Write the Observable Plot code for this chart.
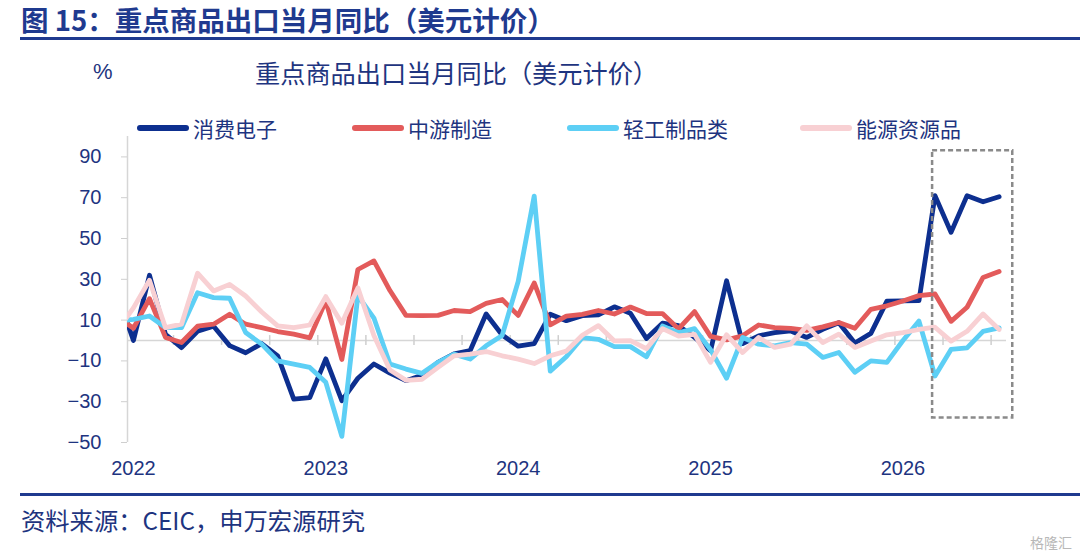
<!DOCTYPE html>
<html>
<head>
<meta charset="utf-8">
<script src="https://cdn.jsdelivr.net/npm/d3@7"></script>
<script src="https://cdn.jsdelivr.net/npm/@observablehq/plot@0.6"></script>
<style>
  html, body { margin: 0; padding: 0; background: #fff; }
  body { width: 1080px; height: 555px; overflow: hidden; font-family: "Noto Sans CJK SC", "Noto Sans", sans-serif; color: #1e3480; }
  #header { position: relative; height: 136px; }
  #title { position: absolute; left: 21px; top: 2px; font-size: 27.5px; font-weight: 700; color: #1f3a8f; line-height: 34px; white-space: nowrap; }
  #rule1 { position: absolute; left: 20px; right: 0; top: 37px; height: 3px; background: #1f3a8f; }
  #unit { position: absolute; left: 93px; top: 56px; font-family: "Liberation Sans", Arial, sans-serif; font-size: 22px; line-height: 32px; color: #1e3480; }
  #subtitle { position: absolute; left: 255px; top: 55px; font-size: 25.2px; line-height: 34px; color: #1e3480; white-space: nowrap; }
  .lg { position: absolute; top: 114px; height: 28px; display: flex; align-items: center; font-size: 21px; line-height: 28px; color: #1e3480; white-space: nowrap; }
  .sw { width: 52px; height: 6px; border-radius: 3px; margin-right: 4px; }
  #footer { position: relative; height: 65px; }
  #rule2 { position: absolute; left: 20px; right: 0; top: 3px; height: 3px; background: #1f3a8f; }
  #source { position: absolute; left: 21px; top: 14px; font-size: 24.3px; line-height: 32px; color: #1e3480; white-space: nowrap; }
  #wm { position: absolute; right: 8px; top: 42px; font-size: 14px; color: #b8b8b8; }
</style>
</head>
<body>
<div id="header">
  <div id="title">图 15：重点商品出口当月同比（美元计价）</div>
  <div id="rule1"></div>
  <div id="unit">%</div>
  <div id="subtitle">重点商品出口当月同比（美元计价）</div>
  <div id="legend"></div>
</div>
<div id="chart"></div>
<div id="footer">
  <div id="rule2"></div>
  <div id="source">资料来源：CEIC，申万宏源研究</div>
  <div id="wm">格隆汇</div>
</div>
<script>
// ---- data (monthly, Dec 2021 .. Jul 2026) ----
const seriesNames = ["消费电子", "中游制造", "轻工制品类", "能源资源品"];
const seriesColors = ["#0d2f8f", "#e35b5b", "#5dcff5", "#f8d0d3"];

const consumerElectronics = [22.7, 0, 32, 3, -3.5, 4.5, 7, -2.5, -6, -1.5, -7.5, -28.7, -28,
  -9, -29.5, -18.5, -11.5, -16, -19.7, -17, -10.7, -6.5, -5, 13, 2.7,
  -2.8, -1.5, 12.9, 9.7, 12.2, 12.6, 16.5, 13.4, 1, 8.5, 7.3, 1.5,
  -5, 29.3, -1.5, 2.3, 3.9, 4.7, 1.5, 5.5, 8.7, -1.2, 3.5, 19.3,
  19.4, 19.5, 71, 53, 71, 68, 70.5];
const midstreamManufacturing = [11.5, 6, 20.5, 1.5, -1, 7, 8, 12.9, 8, 6.3, 4.4, 3.1, 1.3,
  19.5, -9.3, 34.8, 39, 24.5, 12.3, 12.2, 12.3, 14.7, 14.2, 18.2, 20.1,
  12.3, 28.2, 7.7, 12, 12.8, 14.7, 13, 16.4, 13.2, 13.2, 5.7, 14.2,
  2, 0.3, 2.3, 7.6, 6.3, 5.9, 5, 6.7, 8.8, 6, 15.3, 17,
  19.4, 22, 22.8, 9.4, 16.3, 30.9, 33.8];
const lightIndustry = [9.5, 10.4, 12, 6.3, 6.3, 23.4, 21, 20.7, 3.9, -1.8, -10, -11.6, -13.2,
  -20.5, -47, 22, 11, -11.5, -14, -16.1, -10.7, -6.7, -9.1, -2.6, 2.5,
  29, 70.8, -15, -8, 1.4, 0.6, -3, -3, -8, 7.1, 3.8, 5.8,
  -4.5, -18.5, 1.5, -1.8, -2.6, -1, -1.8, -8.3, -5.9, -15.6, -10, -10.7,
  0, 9.5, -17.4, -4.4, -3.6, 4.5, 6.2];
const energyResources = [5, 16, 29.5, 6.3, 8, 33, 24.3, 27.5, 21.8, 14, 7.2, 6.3, 7.6,
  21.5, 8.5, 25.8, 2.5, -14.5, -19.5, -19, -13.2, -7.5, -6.7, -5.4, -7.5,
  -9.1, -11.3, -7.5, -5.2, 2.6, 7.3, -0.2, -0.1, -4, 5.8, 2.2, 3,
  -10.7, 2.8, -5.9, 1.5, -3.4, -1.8, 7.2, -1, 3.1, -3.4, -0.2, 2.8,
  3.9, 5.4, 6.5, -0.3, 4.5, 13, 5.4];

const yearTicks = [0, 12, 24, 36, 48];          // January of each year (month index)
const yearLabels = ["2022", "2023", "2024", "2025", "2026"];
const yTicks = [-50, -30, -10, 10, 30, 50, 70, 90];
const yDomain = [-50, 100];
const xDomain = [-0.37, 54.46];                  // axis window in month index (Jan 2022 = 0)
const quarterTicks = d3.range(2.5, 54, 3);       // category boundaries every quarter
const highlight = [{x1: 49.85, x2: 54.85, y1: -38, y2: 93}];

// ---- build table ----
const months = d3.utcMonths(new Date(Date.UTC(2021, 11, 1)), new Date(Date.UTC(2026, 7, 1)));
const monthIndex = d => (d.getUTCFullYear() - 2022) * 12 + d.getUTCMonth();
const allValues = [consumerElectronics, midstreamManufacturing, lightIndustry, energyResources];
const rows = allValues.flatMap((vals, s) =>
  vals.map((v, i) => ({name: seriesNames[s], t: monthIndex(months[i]), v})));

// ---- legend ----
const legendLeft = [137, 352, 567, 800];
const legend = document.getElementById("legend");
seriesNames.forEach((n, i) => {
  const el = document.createElement("div");
  el.className = "lg";
  el.style.left = legendLeft[i] + "px";
  el.innerHTML = `<div class="sw" style="background:${seriesColors[i]}"></div><span>${n}</span>`;
  legend.appendChild(el);
});

// ---- chart ----
const chart = Plot.plot({
  width: 1080,
  height: 354,
  marginLeft: 127,
  marginRight: 74,
  marginTop: 0,
  marginBottom: 48,
  style: {fontFamily: "'Liberation Sans', Arial, sans-serif", fontSize: "20px", color: "#1e3480", background: "#fff"},
  x: {domain: xDomain},
  y: {domain: yDomain},
  color: {domain: seriesNames, range: seriesColors},
  marks: [
    Plot.ruleY([0], {stroke: "#d6d6d6", strokeWidth: 1.5}),
    Plot.ruleX(quarterTicks, {y1: -2.4, y2: 2.4, stroke: "#cfcfcf", strokeWidth: 1.5}),
    Plot.ruleX([xDomain[0]], {y1: yDomain[0], y2: yDomain[1], stroke: "#d6d6d6", strokeWidth: 1.5}),
    Plot.axisY({ticks: yTicks, tickSize: 6, tickPadding: 20, stroke: "#cfcfcf", fill: "#1e3480", fontSize: 20, label: null}),
    Plot.axisX({ticks: yearTicks, tickFormat: d => yearLabels[yearTicks.indexOf(d)], tickSize: 0, tickPadding: 18, fill: "#1e3480", fontSize: 20, label: null}),
    Plot.line(rows, {x: "t", y: "v", z: "name", stroke: "name", strokeWidth: 4.8, strokeLinejoin: "round", strokeLinecap: "round", clip: true}),
    Plot.rect(highlight, {x1: "x1", x2: "x2", y1: "y1", y2: "y2", fill: "none", stroke: "#8a8a8a", strokeWidth: 2.5, strokeDasharray: "5,3"})
  ]
});
document.getElementById("chart").appendChild(chart);
</script>
</body>
</html>
